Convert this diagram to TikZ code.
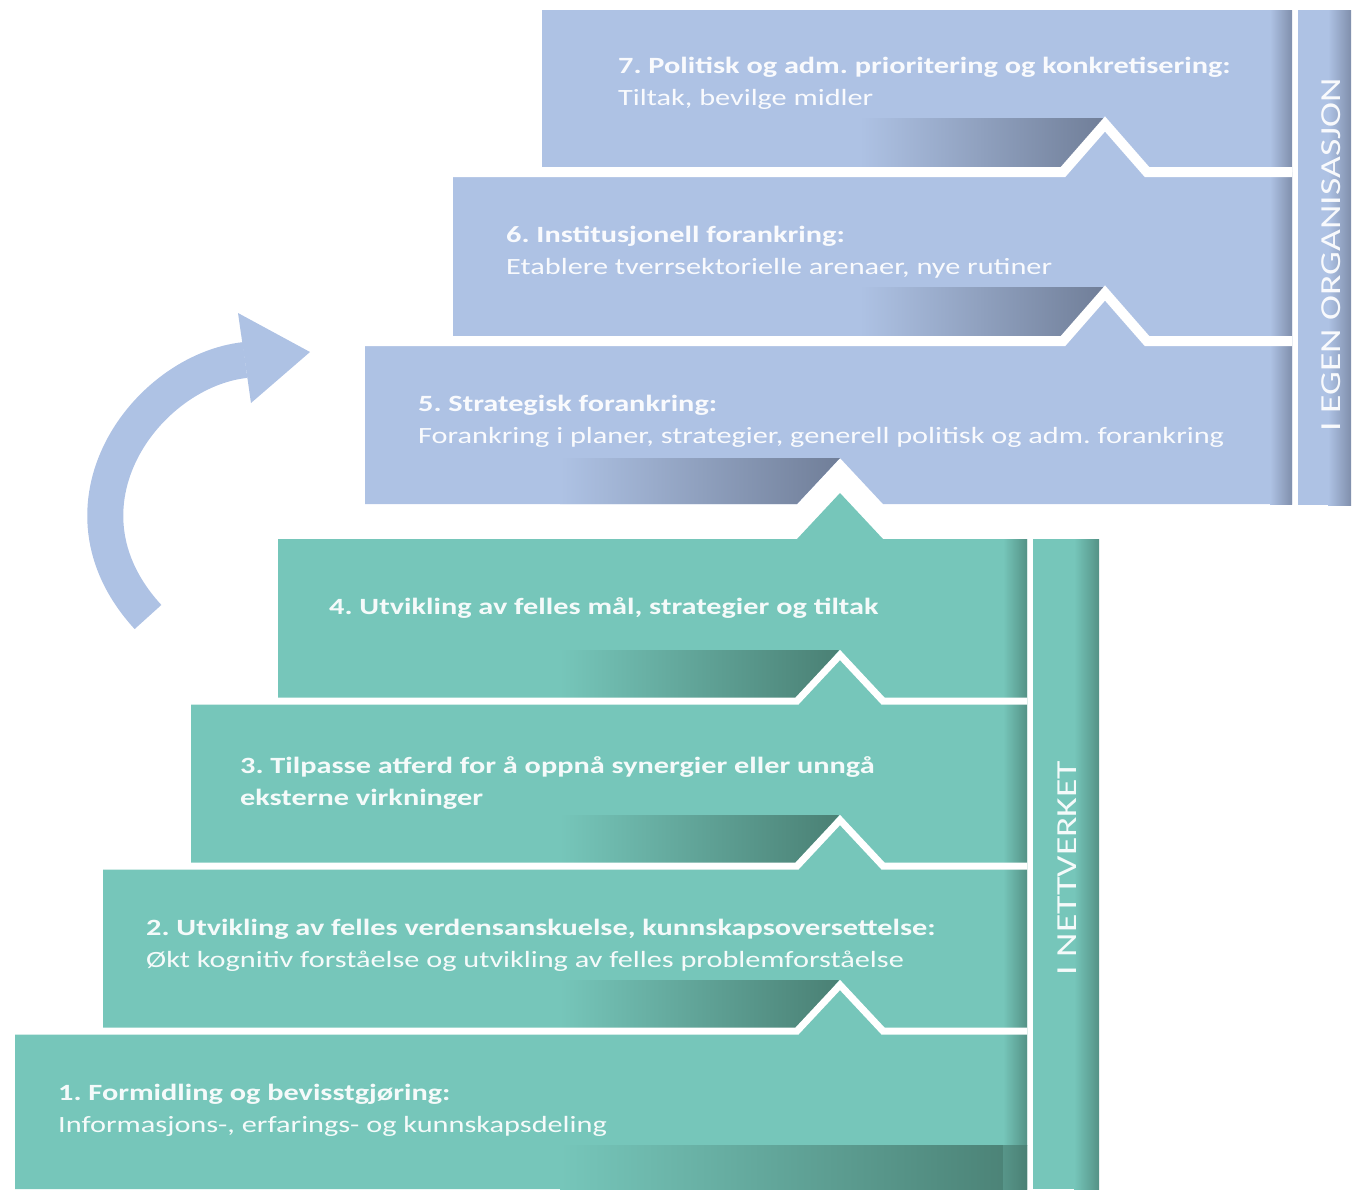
\documentclass[tikz,border=0pt]{standalone}
\usepackage{fontspec}
\setmainfont{Carlito}[FakeStretch=1.3]
\definecolor{bfill}{RGB}{174,194,228}
\definecolor{bdark}{RGB}{112,126,152}
\definecolor{bedge}{RGB}{128,143,172}
\definecolor{gfill}{RGB}{118,198,186}
\definecolor{gdark}{RGB}{74,128,116}
\definecolor{gedge}{RGB}{84,146,134}
\tikzset{
  txt/.style={anchor=base west, inner sep=0pt, text=white, text opacity=0.93,
    font=\fontsize{23.3}{32}\selectfont\frenchspacing},
  vlab/.style={rotate=90, inner sep=0pt, text=white, text opacity=0.93,
    font=\fontsize{29}{34}\selectfont},
  bgap/.style={draw=white, line width=10pt, line join=miter},
  ggap/.style={draw=white, line width=7pt, line join=miter},
}
\begin{document}
\frenchspacing
\begin{tikzpicture}[x=1pt,y=-1pt]
\useasboundingbox (0,0) rectangle (1357,1189);
% ---- step fills ----
\fill[bfill] (542,10) -- (1292,10) -- (1292,172) -- (542,172) -- cycle;
\fill[bfill] (453,172) -- (1063,172) -- (1105,124) -- (1147,172) -- (1292,172) -- (1292,341) -- (453,341) -- cycle;
\fill[bfill] (365,341) -- (1063,341) -- (1105,293) -- (1147,341) -- (1292,341) -- (1292,504) -- (883,504) -- (840,458) -- (797,504) -- (365,504) -- cycle;
\fill[gfill] (278,539) -- (797,539) -- (840,493) -- (883,539) -- (1027,539) -- (1027,701) -- (278,701) -- cycle;
\fill[gfill] (191,701) -- (797,701) -- (840,655) -- (883,701) -- (1027,701) -- (1027,866) -- (191,866) -- cycle;
\fill[gfill] (103,866) -- (797,866) -- (840,820) -- (883,866) -- (1027,866) -- (1027,1031) -- (103,1031) -- cycle;
\fill[gfill] (15,1031) -- (797,1031) -- (840,985) -- (883,1031) -- (1027,1031) -- (1027,1189) -- (15,1189) -- cycle;
% ---- shadow bands ----
\shade[left color=bfill, right color=bdark] (860,118) -- (1104,118) -- (1063,172) -- (860,172) -- cycle;
\shade[left color=bfill, right color=bdark] (860,287) -- (1104,287) -- (1063,341) -- (860,341) -- cycle;
\shade[left color=bfill, right color=bdark] (560,458) -- (840,458) -- (797,504) -- (560,504) -- cycle;
\shade[left color=gfill, right color=gdark] (560,650) -- (839,650) -- (797,701) -- (560,701) -- cycle;
\shade[left color=gfill, right color=gdark] (560,815) -- (839,815) -- (797,866) -- (560,866) -- cycle;
\shade[left color=gfill, right color=gdark] (560,980) -- (839,980) -- (797,1031) -- (560,1031) -- cycle;
\shade[left color=gfill, right color=gdark] (560,1145) rectangle (1027,1189);
% ---- right edge strips ----
\shade[left color=bfill, right color=bedge] (1270,10) rectangle (1292,504);
\shade[left color=gfill, right color=gedge] (1003,539) rectangle (1027,1145);
\shade[left color=gdark!70!gfill, right color=gdark] (1003,1145) rectangle (1027,1189);
% ---- side bars ----
\fill[bfill] (1298,10) rectangle (1351,505);
\shade[left color=bfill, right color=bedge] (1328,10) rectangle (1351,505);
\fill[gfill] (1033,539) rectangle (1099,1189);
\shade[left color=gfill, right color=gedge] (1074,539) rectangle (1099,1189);
% ---- white gaps ----
\draw[bgap] (453,172) -- (1063,172) -- (1105,124) -- (1147,172) -- (1292,172);
\draw[bgap] (365,341) -- (1063,341) -- (1105,293) -- (1147,341) -- (1292,341);
\draw[ggap] (191,701) -- (797,701) -- (840,655) -- (883,701) -- (1027,701);
\draw[ggap] (103,866) -- (797,866) -- (840,820) -- (883,866) -- (1027,866);
\draw[ggap] (15,1031) -- (797,1031) -- (840,985) -- (883,1031) -- (1027,1031);
% ---- curved arrow ----
\draw[bfill, line width=36pt] (148,617) .. controls (46,506) and (146,371) .. (245,360);
\fill[bfill] (238,313) -- (310,352) -- (251,403) -- cycle;
% ---- texts ----
\node[txt] (t7a) at (618,73) {\bfseries 7. Politisk og adm. prioritering og konkretisering:};
\node[txt] (t7b) at (618,105) {Tiltak, bevilge midler};
\node[txt] (t6a) at (506,242) {\bfseries 6. Institusjonell forankring:};
\node[txt] (t6b) at (506,274) {Etablere tverrsektorielle arenaer, nye rutiner};
\node[txt] (t5a) at (418,411) {\bfseries 5. Strategisk forankring:};
\node[txt] (t5b) at (418,443) {Forankring i planer, strategier, generell politisk og adm. forankring};
\node[txt] (t4a) at (329,614) {\bfseries 4. Utvikling av felles mål, strategier og tiltak};
\node[txt] (t3a) at (240,773) {\bfseries 3. Tilpasse atferd for å oppnå synergier eller unngå};
\node[txt] (t3b) at (240,805) {\bfseries eksterne virkninger};
\node[txt] (t2a) at (146,935) {\bfseries 2. Utvikling av felles verdensanskuelse, kunnskapsoversettelse:};
\node[txt] (t2b) at (146,967) {Økt kognitiv forståelse og utvikling av felles problemforståelse};
\node[txt] (t1a) at (58,1100) {\bfseries 1. Formidling og bevisstgjøring:};
\node[txt] (t1b) at (58,1132) {Informasjons-, erfarings- og kunnskapsdeling};
\node[vlab] (lb1) at (1331,255) {I EGEN ORGANISASJON};
\node[vlab] (lb2) at (1067,868) {I NETTVERKET};
\end{tikzpicture}
\end{document}
